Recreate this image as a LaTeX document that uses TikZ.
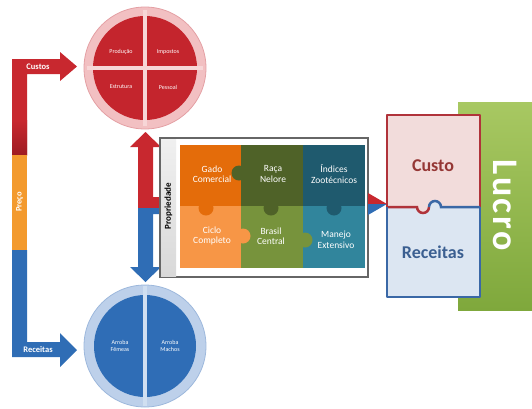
\documentclass[tikz,border=0pt]{standalone}
\usepackage{fontspec}
\setmainfont{Carlito}
\newfontfamily\lucrofont[LetterSpace=7]{Carlito}
\usetikzlibrary{calc}
\definecolor{barred}{HTML}{C8282F}
\definecolor{barreddk}{HTML}{9E1C22}
\definecolor{barblue}{HTML}{2F6DB5}
\definecolor{barorange}{HTML}{F39A2E}
\definecolor{ringred}{HTML}{F2C0C2}
\definecolor{ringredln}{HTML}{E4A0A4}
\definecolor{quadred}{HTML}{C4252D}
\definecolor{gapred}{HTML}{F7D6D7}
\definecolor{ringblue}{HTML}{BDD0EA}
\definecolor{ringblueln}{HTML}{9DB8DC}
\definecolor{halfblue}{HTML}{2F6DB6}
\definecolor{gapblue}{HTML}{D0DFF1}
\definecolor{pOrange}{HTML}{E46C0A}
\definecolor{pDkGreen}{HTML}{4F6228}
\definecolor{pDkTeal}{HTML}{1F5A6E}
\definecolor{pLtOrange}{HTML}{F79646}
\definecolor{pGreen}{HTML}{77933C}
\definecolor{pTeal}{HTML}{31859C}
\definecolor{pinkfill}{HTML}{F2DCDB}
\definecolor{bluefill}{HTML}{DCE6F2}
\definecolor{redline}{HTML}{B0333A}
\definecolor{blueline}{HTML}{3A68A6}
\definecolor{custotxt}{HTML}{953735}
\definecolor{recetxt}{HTML}{3B5F91}
\definecolor{lgA}{HTML}{A8C862}
\definecolor{lgB}{HTML}{7FA83C}
\begin{document}
\begin{tikzpicture}[x=1pt,y=-1pt,
  circtxt/.style={text=white,font=\fontsize{6}{7}\selectfont,align=center},
  puztxt/.style={text=white,font=\fontsize{9.5}{10.5}\selectfont,align=center},
  bartxt/.style={text=white,font=\bfseries\fontsize{8.5}{9}\selectfont}]
\useasboundingbox (0,0) rectangle (532,408);

% ---------- left L bars ----------
\fill[barred] (12,59) -- (60,59) -- (60,52) -- (77,66.5) -- (60,81) -- (60,74) -- (27,74) -- (27,155) -- (12,155) -- cycle;
\shade[top color=barred, bottom color=barreddk] (12,120) rectangle (27,155);
\fill[barorange] (12,155) rectangle (27,250);
\fill[barblue] (12,250) -- (27,250) -- (27,342) -- (60,342) -- (60,333) -- (77,350) -- (60,367) -- (60,357) -- (12,357) -- cycle;
\node[bartxt] (custos) at (38,66.5) {Custos};
\node[bartxt] (receitas) at (38,350) {Receitas};
\node[bartxt,rotate=90] (preco) at (19.5,202) {Preço};

% ---------- red circle ----------
\coordinate (rc) at (145,68);
\fill[ringred, draw=ringredln, line width=0.8pt] (rc) circle[radius=61pt];
\fill[quadred] (rc) circle[radius=52pt];
\draw[gapred, line width=3.5pt] ($(rc)+(-58,0)$) -- ($(rc)+(58,0)$);
\draw[gapred, line width=3.5pt] ($(rc)+(0,-58)$) -- ($(rc)+(0,58)$);
\node[circtxt] (prod) at (121,52) {Produção};
\node[circtxt] (impo) at (168,52) {Impostos};
\node[circtxt] (estr) at (121,87) {Estrutura};
\node[circtxt] (pess) at (168,87) {Pessoal};

% ---------- blue circle ----------
\coordinate (bc) at (145,346);
\fill[ringblue, draw=ringblueln, line width=0.8pt] (bc) circle[radius=61pt];
\fill[halfblue] (bc) circle[radius=51pt];
\draw[gapblue, line width=4pt] ($(bc)+(0,-60)$) -- ($(bc)+(0,60)$);
\node[circtxt] (femeas) at (120,346) {Arroba\\Fêmeas};
\node[circtxt] (machos) at (170,346) {Arroba\\Machos};

% ---------- vertical double arrow ----------
\fill[barred] (138,208) -- (138,147) -- (130,147) -- (145.5,132) -- (161,147) -- (153,147) -- (153,197) -- (162,197) -- (162,208) -- cycle;
\fill[barblue] (138,208) -- (162,208) -- (162,214) -- (153,214) -- (153,267) -- (161,267) -- (145.5,282) -- (130,267) -- (138,267) -- cycle;

% ---------- box ----------
\draw[draw=gray!80!black, line width=1.3pt, fill=white] (160,138) rectangle (368,277);
\shade[top color=gray!12, bottom color=gray!30] (161,139) rectangle (176,276);
\node[rotate=90, font=\bfseries\fontsize{9}{9}\selectfont] (prop) at (168.5,206) {Propriedade};

\fill[pOrange]   (180,145) rectangle (241,206);
\fill[pDkGreen]  (241,145) rectangle (303,206);
\fill[pDkTeal]   (303,145) rectangle (365,206);
\fill[pLtOrange] (180,206) rectangle (241,268);
\fill[pGreen]    (241,206) rectangle (303,268);
\fill[pTeal]     (303,206) rectangle (365,268);
% tabs
\fill[pDkGreen]  (239,173) circle[radius=7.5pt];
\fill[pOrange]   (206,208) circle[radius=7.5pt];
\fill[pDkGreen]  (271,208) circle[radius=7.5pt];
\fill[pDkTeal]   (334,208) circle[radius=7.5pt];
\fill[pLtOrange] (243,236) circle[radius=7.5pt];
\fill[pGreen]    (305,240) circle[radius=7.5pt];

\node[puztxt] (gado)   at (212,174) {Gado\\Comercial};
\node[puztxt] (raca)   at (273,174) {Raça\\Nelore};
\node[puztxt] (indi)   at (334,174) {Índices\\Zootécnicos};
\node[puztxt] (ciclo)  at (212,236) {Ciclo\\Completo};
\node[puztxt] (brasil) at (271,236) {Brasil\\Central};
\node[puztxt] (manejo) at (336,240) {Manejo\\Extensivo};

% ---------- right arrow head ----------
\fill[barred]  (368,193) -- (387,204) -- (368,204) -- cycle;
\fill[barblue] (368,204) -- (387,204) -- (368,215) -- cycle;

% ---------- Lucro ----------
\shade[top color=lgA, bottom color=lgB] (458,102) rectangle (532,310);
\node[rotate=-90, text=white, font=\lucrofont\bfseries\fontsize{36}{36}\selectfont] (lucro) at (505,205) {Lucro};

% ---------- Custo / Receitas pieces ----------
\fill[pinkfill] (387,115) -- (480,115) -- (480,207) -- (441,207)
   arc[start angle=0,end angle=180,radius=6pt]
   arc[start angle=0,end angle=-180,radius=6pt] -- (387,207) -- cycle;
\fill[bluefill] (387,207) -- (417,207)
   arc[start angle=180,end angle=360,radius=6pt]
   arc[start angle=180,end angle=0,radius=6pt] -- (480,207) -- (480,297) -- (387,297) -- cycle;
\draw[redline, line width=2.5pt, line join=round] (387,207) -- (387,115) -- (480,115) -- (480,207);
\draw[redline, line width=2.5pt] (387,207) -- (417,207) arc[start angle=180,end angle=360,radius=6pt];
\draw[blueline, line width=2.5pt, line join=round] (480,207) -- (480,297) -- (387,297) -- (387,207);
\draw[blueline, line width=2.5pt] (429,207) arc[start angle=180,end angle=0,radius=6pt] -- (480,207);
\node[text=custotxt, font=\bfseries\fontsize{18}{18}\selectfont] (custo) at (433,166) {Custo};
\node[text=recetxt, font=\bfseries\fontsize{18}{18}\selectfont] (rec) at (433,252) {Receitas};
\end{tikzpicture}
\end{document}
